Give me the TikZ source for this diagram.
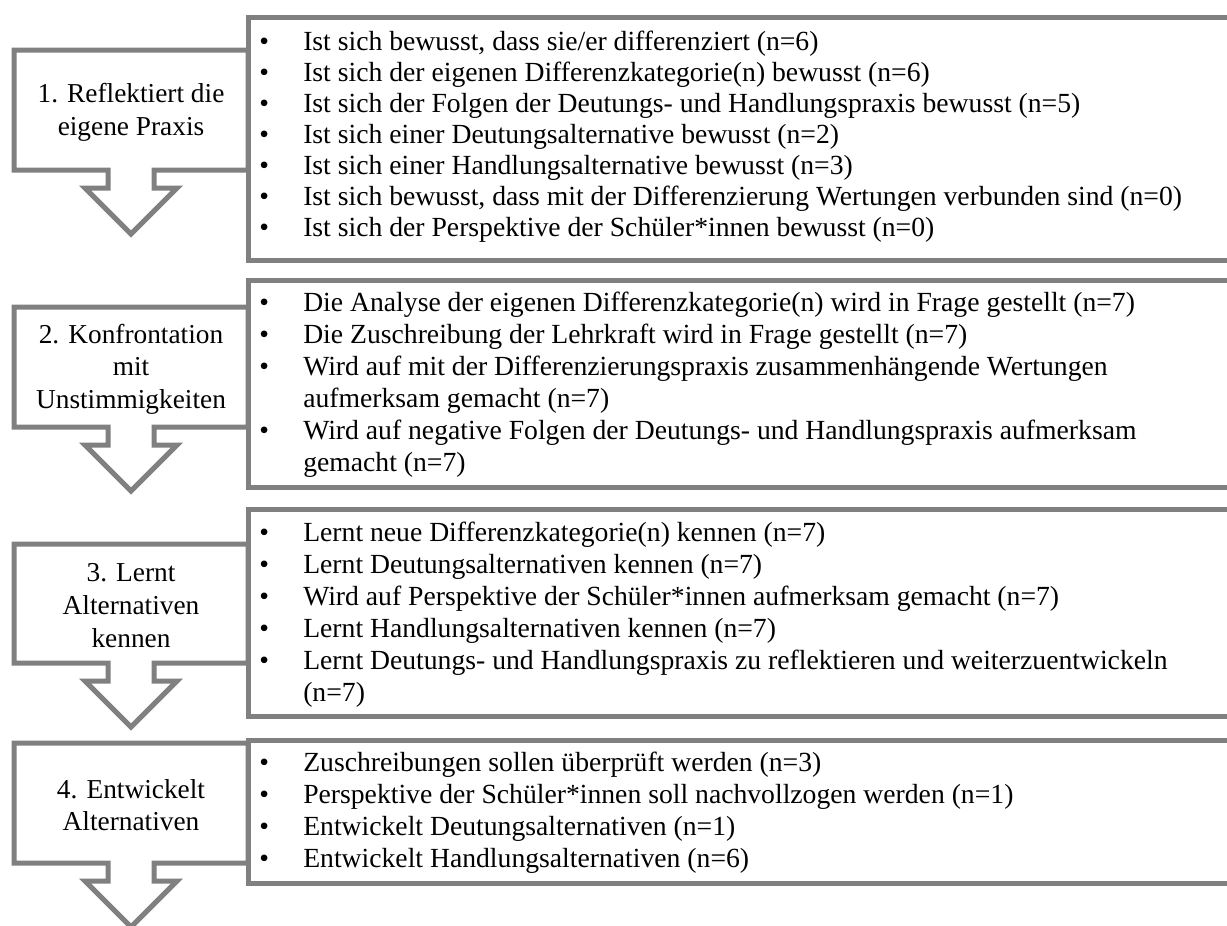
\documentclass[tikz,border=0pt]{standalone}
\usepackage{fontspec}
\setmainfont{Liberation Serif}
\definecolor{framegray}{RGB}{128,128,128}
\tikzset{
  x=0.75pt, y=-0.75pt,
  shape frame/.style={draw=framegray, line width=3.75pt, fill=white, line join=miter},
  label text/.style={font=\fontsize{20.5}{24.5}\selectfont, align=center, inner sep=0pt},
  item text/.style={font=\fontsize{20.75}{24}\selectfont, anchor=base west, inner sep=0pt},
}
% arrow-shaped step label: #1 name, #2 top, #3 bottom, #4 text
\newcommand\stepshape[4]{%
  \draw[shape frame] (14,#2) -- (248,#2) -- (248,#3) -- (154,#3) -- (154,#3+18)
    -- (177,#3+18) -- (131,#3+64) -- (85,#3+18) -- (108,#3+18) -- (108,#3)
    -- (14,#3) -- cycle;
  \node[label text] (#1) at (131,{(#2+#3)/2+2}) {#4};
}
\newcommand\listbox[2]{% #1 top, #2 bottom
  \draw[shape frame] (1260,#1) -- (248,#1) -- (248,#2) -- (1260,#2);
}
\newcommand\bitem[3]{%
  \node[item text] (#1b) at (259,#2) {\textbullet};
  \node[item text] (#1) at (303,#2) {#3};
}
\newcommand\citem[3]{%
  \node[item text] (#1) at (303,#2) {#3};
}
\begin{document}
\begin{tikzpicture}
\clip (0,0) rectangle (1227,925);
\fill[white] (0,0) rectangle (1227,925);

% step 1
\stepshape{s1}{50}{170}{1. Reflektiert die\\eigene Praxis}
\listbox{17}{260}
\bitem{a1}{50}{Ist sich bewusst, dass sie/er differenziert (n=6)}
\bitem{a2}{81}{Ist sich der eigenen Differenzkategorie(n) bewusst (n=6)}
\bitem{a3}{112}{Ist sich der Folgen der Deutungs- und Handlungspraxis bewusst (n=5)}
\bitem{a4}{143}{Ist sich einer Deutungsalternative bewusst (n=2)}
\bitem{a5}{174}{Ist sich einer Handlungsalternative bewusst (n=3)}
\bitem{a6}{205}{Ist sich bewusst, dass mit der Differenzierung Wertungen verbunden sind (n=0)}
\bitem{a7}{236}{Ist sich der Perspektive der Schüler*innen bewusst (n=0)}

% step 2
\stepshape{s2}{307}{427}{2. Konfrontation\\mit\\Unstimmigkeiten}
\listbox{280}{487}
\bitem{b1}{311}{Die Analyse der eigenen Differenzkategorie(n) wird in Frage gestellt (n=7)}
\bitem{b2}{343}{Die Zuschreibung der Lehrkraft wird in Frage gestellt (n=7)}
\bitem{b3}{375}{Wird auf mit der Differenzierungspraxis zusammenhängende Wertungen}
\citem{b3c}{407}{aufmerksam gemacht (n=7)}
\bitem{b4}{439}{Wird auf negative Folgen der Deutungs- und Handlungspraxis aufmerksam}
\citem{b4c}{471}{gemacht (n=7)}

% step 3
\stepshape{s3}{544}{663}{3. Lernt\\Alternativen\\kennen}
\listbox{509}{716}
\bitem{c1}{541}{Lernt neue Differenzkategorie(n) kennen (n=7)}
\bitem{c2}{573}{Lernt Deutungsalternativen kennen (n=7)}
\bitem{c3}{605}{Wird auf Perspektive der Schüler*innen aufmerksam gemacht (n=7)}
\bitem{c4}{637}{Lernt Handlungsalternativen kennen (n=7)}
\bitem{c5}{669}{Lernt Deutungs- und Handlungspraxis zu reflektieren und weiterzuentwickeln}
\citem{c5c}{701}{(n=7)}

% step 4
\stepshape{s4}{743}{863}{4. Entwickelt\\Alternativen}
\listbox{740}{883}
\bitem{d1}{771}{Zuschreibungen sollen überprüft werden (n=3)}
\bitem{d2}{803}{Perspektive der Schüler*innen soll nachvollzogen werden (n=1)}
\bitem{d3}{835}{Entwickelt Deutungsalternativen (n=1)}
\bitem{d4}{867}{Entwickelt Handlungsalternativen (n=6)}
\end{tikzpicture}
\end{document}
